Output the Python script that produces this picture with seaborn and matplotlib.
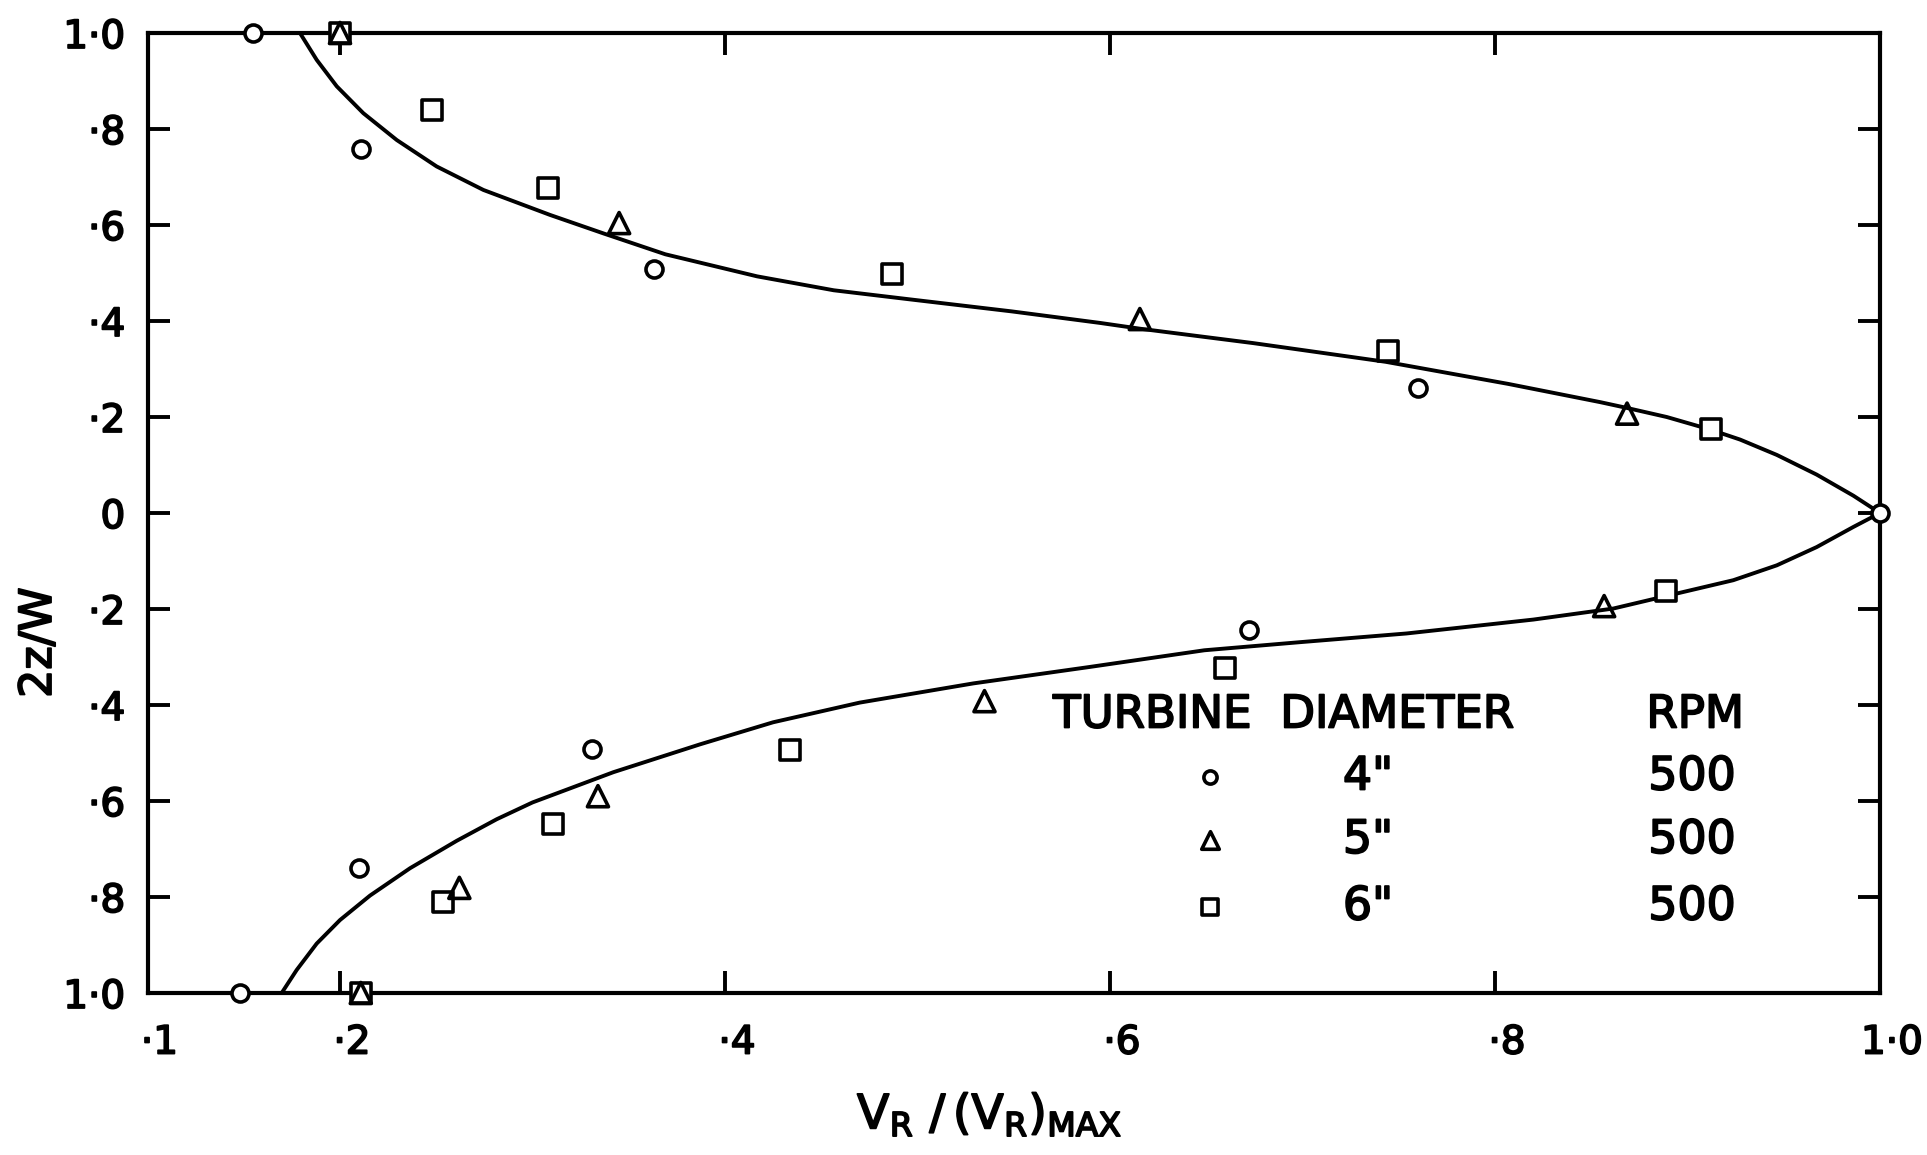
import numpy as np
import pandas as pd
import matplotlib
matplotlib.use("Agg")
import matplotlib.pyplot as plt
import matplotlib.transforms as mtransforms
import matplotlib.patheffects as pe
import seaborn as sns

# ---------------- data ----------------
# 4" turbine (circles)
circle_x = [0.155, 0.211, 0.363, 0.760, 1.000, 0.672, 0.331, 0.210, 0.148]
circle_y = [1.00, 0.758, 0.508, 0.261, 0.000, -0.243, -0.492, -0.739, -1.00]
# 5" turbine (triangles)
tri_x = [0.200, 0.345, 0.6155, 0.8686, 0.8567, 0.5348, 0.334, 0.262, 0.2108]
tri_y = [1.00, 0.604, 0.404, 0.207, -0.194, -0.392, -0.590, -0.781, -1.00]
# 6" turbine (squares)
sq_x = [0.200, 0.2480, 0.3082, 0.4869, 0.7446, 0.912, 0.889, 0.6598, 0.434, 0.3108, 0.2535, 0.2108]
sq_y = [1.00, 0.839, 0.677, 0.498, 0.337, 0.174, -0.163, -0.322, -0.494, -0.648, -0.810, -1.00]

# fitted profile (top -> vertex -> bottom)
curve_x = [0.1792, 0.1879, 0.1983, 0.2121, 0.2295, 0.2502, 0.2745, 0.3091, 0.3372,
           0.369, 0.4167, 0.4565, 0.4962, 0.549, 0.5948, 0.6155, 0.6468, 0.6743,
           0.7432, 0.8068, 0.8546, 0.8684, 0.8892, 0.9117, 0.9273, 0.9464, 0.9671,
           0.9862, 1.000,
           0.9862, 0.9671, 0.9464, 0.9238, 0.891, 0.8615, 0.820, 0.754, 0.699,
           0.649, 0.589, 0.529, 0.470, 0.425, 0.387, 0.342, 0.300, 0.2814,
           0.2606, 0.2364, 0.2156, 0.2000, 0.1879, 0.1775, 0.1697]
curve_y = [1.000, 0.944, 0.889, 0.833, 0.777, 0.722, 0.673, 0.621, 0.582,
           0.539, 0.493, 0.464, 0.445, 0.420, 0.396, 0.384, 0.368, 0.354,
           0.315, 0.269, 0.231, 0.219, 0.200, 0.174, 0.153, 0.121, 0.080,
           0.036, 0.000,
           -0.029, -0.071, -0.109, -0.140, -0.171, -0.199, -0.222, -0.251, -0.269,
           -0.286, -0.321, -0.355, -0.395, -0.436, -0.482, -0.540, -0.603, -0.638,
           -0.683, -0.740, -0.797, -0.848, -0.897, -0.952, -1.000]

xtick_vals = [0.1, 0.2, 0.4, 0.6, 0.8, 1.0]
xtick_labels = ["·1", "·2", "·4", "·6", "·8", "1·0"]
ytick_vals = [1.0, 0.8, 0.6, 0.4, 0.2, 0.0, -0.2, -0.4, -0.6, -0.8, -1.0]
ytick_labels = ["1·0", "·8", "·6", "·4", "·2", "0", "·2", "·4", "·6", "·8", "1·0"]

legend_title_left = "TURBINE  DIAMETER"
legend_title_right = "RPM"
legend_sizes = ['4"', '5"', '6"']
legend_rpm = ["500", "500", "500"]
legend_markers = ["o", "^", "s"]

# ---------------- style ----------------
sns.set_theme(style="white")
plt.rcParams["font.family"] = ["DejaVu Sans"]
plt.rcParams["mathtext.fontset"] = "dejavusans"

ink = "black"
heavy = [pe.withStroke(linewidth=1.3, foreground=ink)]

fig = plt.figure(figsize=(19.27, 11.55), dpi=100)
ax = fig.add_axes([147.5 / 1927, 1 - 993 / 1155, 1732.5 / 1927, 960 / 1155])

sns.lineplot(x=curve_x, y=curve_y, sort=False, estimator=None, color=ink,
             linewidth=2.8, ax=ax, zorder=2)

common = dict(color="white", edgecolor=ink, linewidth=2.6, clip_on=False, ax=ax)
sns.scatterplot(x=circle_x, y=circle_y, marker="o", s=150, zorder=3, **common)
sns.scatterplot(x=sq_x, y=sq_y, marker="s", s=200, zorder=3, **common)
# triangles drawn hollow on top so that coinciding square/triangle pairs both show
sns.scatterplot(x=tri_x, y=tri_y, marker="^", s=230, zorder=4, color="none",
                edgecolor=ink, linewidth=2.6, clip_on=False, ax=ax)

ax.set_xlim(0.1, 1.0)
ax.set_ylim(-1.0, 1.0)
ax.set_xticks(xtick_vals)
ax.set_xticklabels(xtick_labels)
ax.set_yticks(ytick_vals)
ax.set_yticklabels(ytick_labels)

ax.tick_params(axis="both", which="major", direction="in", length=16, width=2.8,
               top=True, right=True, bottom=True, left=True, labelsize=28, colors=ink)
ax.tick_params(axis="x", pad=22)
ax.tick_params(axis="y", pad=16)
for sp in ax.spines.values():
    sp.set_visible(True)
    sp.set_linewidth(3.0)
    sp.set_color(ink)

offset = mtransforms.ScaledTranslation(0.12, 0, fig.dpi_scale_trans)
for lab in ax.get_xticklabels():
    lab.set_transform(lab.get_transform() + offset)
    lab.set_path_effects(heavy)
for lab in ax.get_yticklabels():
    lab.set_path_effects(heavy)

xl = ax.set_xlabel(r"$\mathsf{V_R\ /\,(V_R)_{MAX}}$", fontsize=34, color=ink, va="top")
ax.xaxis.set_label_coords(0.486, -0.103)
xl.set_path_effects(heavy)
yl = ax.set_ylabel("2z/W", fontsize=32, color=ink)
ax.yaxis.set_label_coords(-0.0505, 0.365)
yl.set_path_effects(heavy)

# legend drawn as a small table inside the axes
t = ax.text(0.5227, 0.2896, legend_title_left, transform=ax.transAxes, fontsize=32.5,
            ha="left", va="center", color=ink)
t.set_path_effects(heavy)
t = ax.text(0.8932, 0.2896, legend_title_right, transform=ax.transAxes, fontsize=32.5,
            ha="center", va="center", color=ink)
t.set_path_effects(heavy)
row_y = [0.225, 0.159, 0.0896]
leg_s = {"o": 90, "^": 160, "s": 120}
for ry, mk, sz, rpm in zip(row_y, legend_markers, legend_sizes, legend_rpm):
    ax.scatter([0.6133], [ry], marker=mk, s=leg_s[mk], facecolor="white",
               edgecolor=ink, linewidth=2.6, transform=ax.transAxes, zorder=3)
    t = ax.text(0.69, ry, sz, transform=ax.transAxes, fontsize=33, ha="left",
                va="center", color=ink)
    t.set_path_effects(heavy)
    t = ax.text(0.8915, ry, rpm, transform=ax.transAxes, fontsize=33, ha="center",
                va="center", color=ink)
    t.set_path_effects(heavy)

fig.savefig("out.png", dpi=100, facecolor="white")
